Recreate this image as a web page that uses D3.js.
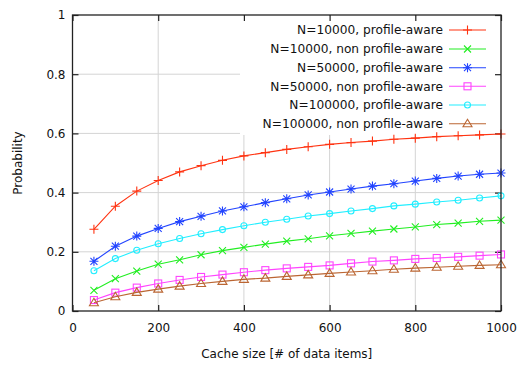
<!DOCTYPE html>
<html><head><meta charset="utf-8">
<script src="https://cdn.jsdelivr.net/npm/d3@7"></script>
<style>body{margin:0;background:#fff}svg{display:block;font-family:"DejaVu Sans",sans-serif}</style>
</head><body><svg id="c" width="517" height="365"></svg>
<script>
const cacheSizes = [50,100,150,200,250,300,350,400,450,500,550,600,650,700,750,800,850,900,950,1000];
const n10kPA  = [0.276,0.354,0.405,0.441,0.470,0.491,0.509,0.524,0.535,0.546,0.555,0.563,0.569,0.574,0.580,0.584,0.589,0.592,0.595,0.598];
const n10kNPA = [0.070,0.109,0.135,0.158,0.173,0.190,0.204,0.215,0.226,0.236,0.244,0.254,0.262,0.270,0.277,0.284,0.292,0.297,0.303,0.307];
const n50kPA  = [0.168,0.219,0.253,0.279,0.302,0.320,0.338,0.352,0.366,0.379,0.392,0.402,0.412,0.422,0.430,0.439,0.448,0.456,0.462,0.466];
const n50kNPA = [0.037,0.062,0.079,0.093,0.105,0.115,0.123,0.131,0.138,0.144,0.149,0.154,0.161,0.167,0.171,0.176,0.179,0.183,0.187,0.191];
const n100kPA = [0.136,0.177,0.205,0.227,0.245,0.261,0.275,0.288,0.300,0.310,0.321,0.329,0.338,0.346,0.355,0.361,0.368,0.374,0.382,0.389];
const n100kNPA= [0.028,0.048,0.063,0.074,0.084,0.093,0.100,0.107,0.111,0.117,0.122,0.127,0.132,0.136,0.141,0.145,0.148,0.151,0.154,0.156];
const seriesNames = ["N=10000, profile-aware","N=10000, non profile-aware","N=50000, profile-aware","N=50000, non profile-aware","N=100000, profile-aware","N=100000, non profile-aware"];
const xTicks = [0,200,400,600,800,1000];
const xTickLabels = ["0","200","400","600","800","1000"];
const yTicks = [0,0.2,0.4,0.6,0.8,1];
const yTickLabels = ["0","0.2","0.4","0.6","0.8","1"];

const seriesValues = [n10kPA,n10kNPA,n50kPA,n50kNPA,n100kPA,n100kNPA];
const colors = ["#ff3311","#22ee22","#2244ff","#ff44ff","#22eeff","#bb6633"];
const markers = ["plus","cross","star","square","circle","triangle"];

const svg = d3.select("#c");
const L=72.5,R=501,T=15,B=311;
const x = d3.scaleLinear().domain([0,1000]).range([L,R]);
const y = d3.scaleLinear().domain([0,1]).range([B,T]);

// grid
const g = svg.append("g");
g.selectAll("line.gx").data(xTicks.slice(1,-1)).join("line")
  .attr("x1",d=>x(d)).attr("x2",d=>x(d)).attr("y1",T).attr("y2",B)
  .attr("stroke","#d4d4d4").attr("stroke-width",1);
g.selectAll("line.gy").data(yTicks.slice(1,-1)).join("line")
  .attr("y1",d=>y(d)).attr("y2",d=>y(d)).attr("x1",L).attr("x2",R)
  .attr("stroke","#d4d4d4").attr("stroke-width",1);

// opaque key box
svg.append("rect").attr("x",240).attr("y",T+1).attr("width",R-240-1).attr("height",119).attr("fill","#fff");

// axes with inward ticks
const ax = svg.append("g").attr("transform",`translate(0,${B})`)
  .call(d3.axisBottom(x).tickValues(xTicks).tickFormat((d,i)=>xTickLabels[i]).tickSizeInner(-6).tickSizeOuter(0).tickPadding(12));
const axT = svg.append("g").attr("transform",`translate(0,${T})`)
  .call(d3.axisTop(x).tickValues(xTicks).tickSizeInner(-6).tickSizeOuter(0).tickFormat(""));
const ay = svg.append("g").attr("transform",`translate(${L},0)`)
  .call(d3.axisLeft(y).tickValues(yTicks).tickFormat((d,i)=>yTickLabels[i]).tickSizeInner(-6).tickSizeOuter(0).tickPadding(7));
const ayR = svg.append("g").attr("transform",`translate(${R},0)`)
  .call(d3.axisRight(y).tickValues(yTicks).tickSizeInner(-6).tickSizeOuter(0).tickFormat(""));
[ax,axT,ay,ayR].forEach(a=>{
  a.select(".domain").remove();
  a.selectAll("line").attr("stroke","#222").attr("stroke-width",1.2);
  a.selectAll("text").attr("font-size",12).attr("fill","#111").attr("font-family","DejaVu Sans");
});

function marker(sel,type,color){
  sel.each(function(){
    const s=d3.select(this);
    if(type==="plus"){
      s.append("path").attr("d","M-4.5,0H4.5M0,-4.5V4.5");
    }else if(type==="cross"){
      s.append("path").attr("d","M-3.5,-3.5L3.5,3.5M-3.5,3.5L3.5,-3.5");
    }else if(type==="star"){
      s.append("path").attr("d","M-4.5,0H4.5M0,-4.5V4.5M-3.5,-3.5L3.5,3.5M-3.5,3.5L3.5,-3.5");
    }else if(type==="square"){
      s.append("rect").attr("x",-3.5).attr("y",-3.5).attr("width",7).attr("height",7).attr("fill","none");
    }else if(type==="circle"){
      s.append("circle").attr("r",3).attr("fill","none");
    }else if(type==="triangle"){
      s.append("path").attr("d","M0,-4.5L4.5,3L-4.5,3Z").attr("fill","none");
    }
    s.selectAll("*").attr("stroke",color).attr("stroke-width",1.1);
  });
}

const line = d3.line().x(d=>x(d[0])).y(d=>y(d[1]));
seriesValues.forEach((vals,i)=>{
  const pts = cacheSizes.map((c,j)=>[c,vals[j]]);
  svg.append("path").datum(pts).attr("d",line).attr("fill","none").attr("stroke",colors[i]).attr("stroke-width",1.1);
  svg.append("g").selectAll("g").data(pts).join("g")
    .attr("transform",d=>`translate(${x(d[0])},${y(d[1])})`)
    .call(s=>marker(s,markers[i],colors[i]));
});

// legend
const legY = [30,49,67.7,86.3,105,123.7];
seriesNames.forEach((name,i)=>{
  svg.append("text").attr("x",443).attr("y",legY[i]).attr("dy","0.35em").attr("text-anchor","end")
    .attr("font-size",12.2).attr("fill","#111").text(name);
  svg.append("line").attr("x1",449).attr("x2",486).attr("y1",legY[i]).attr("y2",legY[i])
    .attr("stroke",colors[i]).attr("stroke-width",1.1);
  svg.append("g").attr("transform",`translate(467.5,${legY[i]})`).call(s=>marker(s,markers[i],colors[i]));
});

// frame
svg.append("rect").attr("x",L).attr("y",T).attr("width",R-L).attr("height",B-T)
  .attr("fill","none").attr("stroke","#222").attr("stroke-width",1.3);

// axis titles
svg.append("text").attr("x",(L+R)/2).attr("y",358).attr("text-anchor","middle").attr("font-size",12).attr("fill","#111")
  .text("Cache size [# of data items]");
svg.append("text").attr("transform",`translate(22,${(T+B)/2}) rotate(-90)`).attr("text-anchor","middle").attr("font-size",12).attr("fill","#111")
  .text("Probability");
</script></body></html>
